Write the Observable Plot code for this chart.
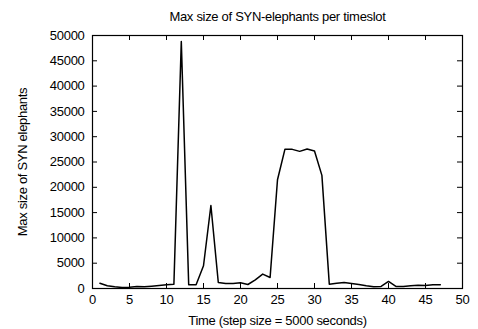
<!DOCTYPE html>
<html>
<head>
<meta charset="utf-8">
<script src="https://cdn.jsdelivr.net/npm/d3@7"></script>
<script src="https://cdn.jsdelivr.net/npm/@observablehq/plot@0.6"></script>
<style>
  html, body { margin: 0; padding: 0; background: #fff; }
  #chart { width: 478px; height: 329px; }
  svg { font-family: "Liberation Sans", Arial, sans-serif; }
</style>
</head>
<body>
<div id="chart"></div>
<script>
const titleText = "Max size of SYN-elephants per timeslot";
const xLabel = "Time (step size = 5000 seconds)";
const yLabel = "Max size of SYN elephants";

const timeslots = [1,2,3,4,5,6,7,8,9,10,11,12,13,14,15,16,17,18,19,20,21,22,23,24,25,26,27,28,29,30,31,32,33,34,35,36,37,38,39,40,41,42,43,44,45,46,47];
const maxSize = [1050,530,330,200,260,400,330,460,600,730,860,48800,730,730,4490,16400,1190,990,990,1120,790,1700,2840,2180,21500,27500,27500,27100,27570,27180,22360,860,1050,1190,990,790,530,330,400,1390,400,400,530,660,600,730,730];

const xTicks = [0,5,10,15,20,25,30,35,40,45,50];
const yTicks = [0,5000,10000,15000,20000,25000,30000,35000,40000,45000,50000];

const W = 478, H = 329;
const mL = 92, mR = 16, mT = 35, mB = 41;
const innerH = H - mT - mB, innerW = W - mL - mR;
const tk = 5;
const fs = 13;

const data = timeslots.map((t, i) => ({t, v: maxSize[i]}));

const chart = Plot.plot({
  width: W, height: H,
  marginLeft: mL, marginRight: mR, marginTop: mT, marginBottom: mB,
  style: {fontFamily: '"Liberation Sans", Arial, sans-serif', fontSize: fs + "px", color: "#000", background: "#fff", letterSpacing: "-0.3px"},
  x: {domain: [0, 50]},
  y: {domain: [0, 50000]},
  marks: [
    Plot.tickX(xTicks, {x: d => d, insetTop: innerH - tk, stroke: "#000", strokeWidth: 1}),
    Plot.tickX(xTicks, {x: d => d, insetBottom: innerH - tk, stroke: "#000", strokeWidth: 1}),
    Plot.tickY(yTicks, {y: d => d, insetRight: innerW - tk, stroke: "#000", strokeWidth: 1}),
    Plot.tickY(yTicks, {y: d => d, insetLeft: innerW - tk, stroke: "#000", strokeWidth: 1}),
    Plot.axisX({ticks: xTicks, tickSize: 0, tickPadding: 6, label: null, fontSize: fs, tickFormat: d3.format("d")}),
    Plot.axisY({ticks: yTicks, tickSize: 0, tickPadding: 8, label: null, fontSize: fs, tickFormat: d3.format("d")}),
    Plot.line(data, {x: "t", y: "v", stroke: "#000", strokeWidth: 1.5}),
    Plot.frame({stroke: "#000", strokeWidth: 1.2}),
    Plot.text([titleText], {frameAnchor: "top", dy: -mT + 20, lineAnchor: "bottom", fontSize: fs, fill: "#000", text: d => d}),
    Plot.text([xLabel], {frameAnchor: "bottom", dy: mB - 5, lineAnchor: "bottom", fontSize: fs, fill: "#000", text: d => d}),
    Plot.text([yLabel], {frameAnchor: "left", textAnchor: "middle", dx: -70, rotate: -90, fontSize: fs, fill: "#000", text: d => d})
  ]
});
document.getElementById("chart").appendChild(chart);
</script>
</body>
</html>
